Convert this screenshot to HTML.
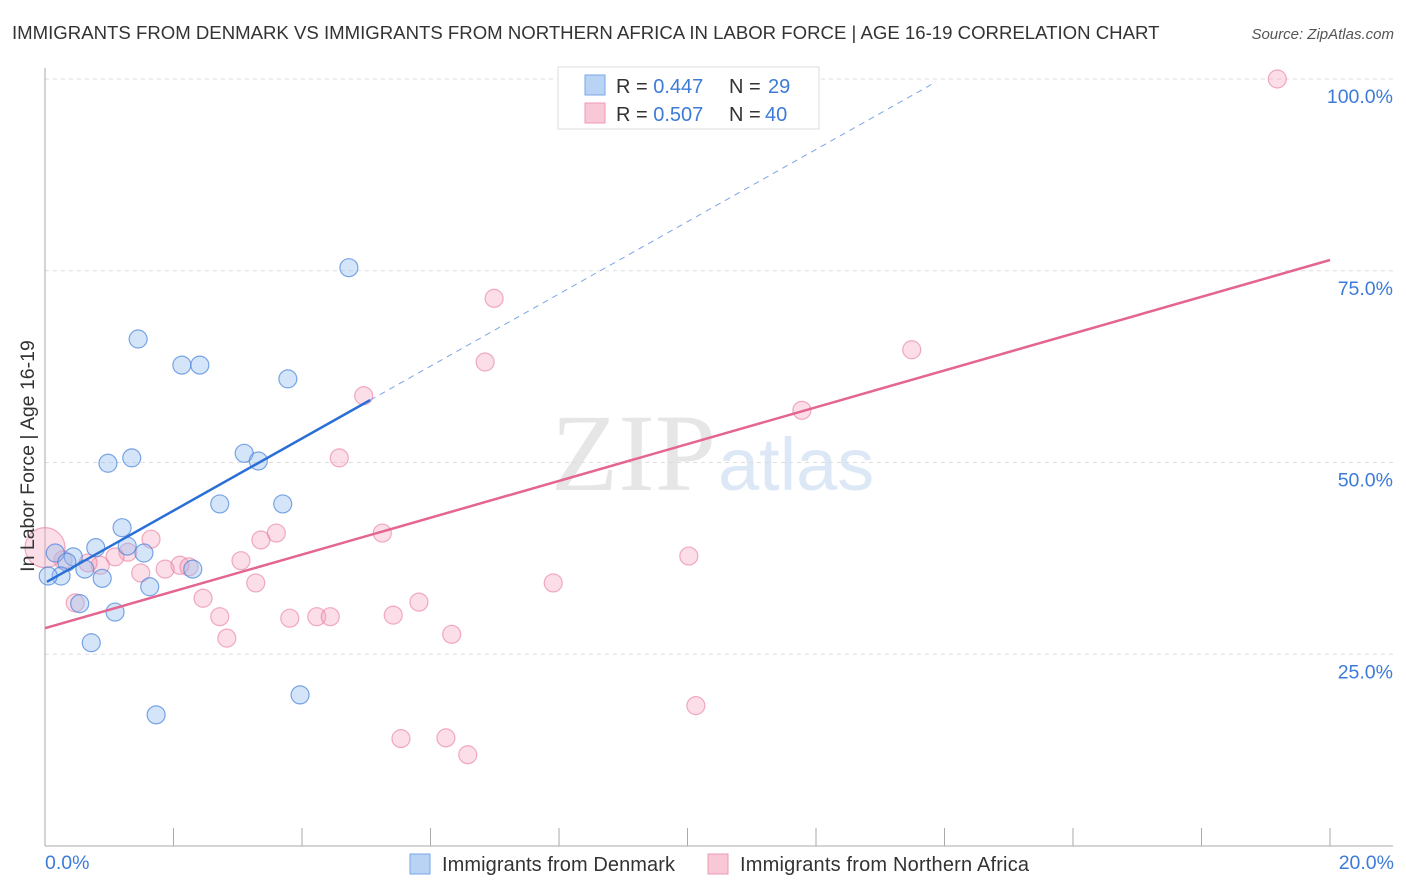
<!DOCTYPE html>
<html><head><meta charset="utf-8"><style>
body{margin:0;background:#fff;font-family:"Liberation Sans",sans-serif}
svg{display:block}
</style></head><body>
<svg width="1406" height="892">
<text x="12" y="39" font-size="18.6" fill="#333">IMMIGRANTS FROM DENMARK VS IMMIGRANTS FROM NORTHERN AFRICA IN LABOR FORCE | AGE 16-19 CORRELATION CHART</text>
<text x="1394" y="39" font-size="15" fill="#555" font-style="italic" text-anchor="end">Source: ZipAtlas.com</text>
<text x="716" y="490" font-size="110" fill="#e6e6e6" text-anchor="end" font-family="Liberation Serif,serif">ZIP</text>
<text x="718" y="490" font-size="74" fill="#dde8f6">atlas</text>
<g id="grid"></g>
<g id="axes"></g>
<g id="marks"></g>
<text x="34" y="456" font-size="19.5" fill="#333" text-anchor="middle" transform="rotate(-90 34 456)">In Labor Force | Age 16-19</text>
<text x="45" y="869" font-size="19.5" fill="#3d7bd9">0.0%</text>
<text x="1394" y="869" font-size="19.5" fill="#3d7bd9" text-anchor="end">20.0%</text>
<g>
<rect x="410" y="854" width="20" height="20" fill="#b9d3f5" stroke="#7aa6e6"/>
<text x="442" y="871" font-size="20" fill="#333" textLength="233">Immigrants from Denmark</text>
<rect x="708" y="854" width="20" height="20" fill="#f9c8d6" stroke="#ee9ab4"/>
<text x="740" y="871" font-size="20" fill="#333" textLength="289">Immigrants from Northern Africa</text>
</g>
<g>
<rect x="558" y="67" width="261" height="62" fill="#fff" stroke="#ddd"/>
<rect x="585" y="75" width="20" height="20" fill="#b9d3f5" stroke="#7aa6e6"/>
<rect x="585" y="103" width="20" height="20" fill="#f9c8d6" stroke="#ee9ab4"/>
<g font-size="20" fill="#333">
<text x="616" y="93">R = <tspan fill="#3d7bd9">0.447</tspan></text>
<text x="729" y="93">N =</text>
<text x="768" y="93" fill="#3d7bd9">29</text>
<text x="616" y="121">R = <tspan fill="#3d7bd9">0.507</tspan></text>
<text x="729" y="121">N =</text>
<text x="765" y="121" fill="#3d7bd9">40</text>
</g>
</g>
</svg>
<script>
const blueX=[1.45,2.13,2.41,3.78,4.73,0.98,1.35,3.10,3.32,2.72,3.70,1.20,0.79,1.28,1.54,0.16,0.44,0.34,0.62,0.89,0.25,0.05,1.63,2.30,0.54,1.09,0.72,3.97,1.73];
const blueY=[66.1,62.7,62.7,60.9,75.4,49.9,50.6,51.2,50.2,44.6,44.6,41.5,38.9,39.1,38.2,38.2,37.7,37.0,36.1,34.9,35.2,35.2,33.8,36.1,31.6,30.5,26.5,19.7,17.1];
const pinkX=[19.18,8.42,6.99,6.85,13.49,4.96,11.78,4.58,5.25,3.60,3.36,1.65,1.29,1.09,10.02,3.05,2.10,2.24,1.87,0.86,0.67,0.28,1.49,7.91,3.28,2.46,5.82,0.47,2.72,5.42,3.81,4.23,4.44,2.83,6.33,10.13,5.54,6.24,6.58,0];
const pinkY=[100,100,71.4,63.1,64.7,58.7,56.8,50.6,40.8,40.8,39.9,40.0,38.3,37.7,37.8,37.2,36.6,36.4,36.1,36.6,36.9,37.3,35.6,34.3,34.3,32.3,31.8,31.7,29.9,30.1,29.7,29.9,29.9,27.1,27.6,18.3,14.0,14.1,11.9,38.9];
const pinkR=[9,9,9,9,9,9,9,9,9,9,9,9,9,9,9,9,9,9,9,9,9,9,9,9,9,9,9,9,9,9,9,9,9,9,9,9,9,9,9,20];
const blueFit=[34.3,4.71];
const blueFitRange=[0.03,5.06,13.87];
const pinkFit=[28.4,2.4];
const yTicks=[25,50,75,100];
const yTickLabels=["25.0%","50.0%","75.0%","100.0%"];
const xTicks=[0,2,4,6,8,10,12,14,16,18,20];
const NS="http://www.w3.org/2000/svg";
const sx=v=>45+v*64.25, sy=v=>846-v*7.67;
function mk(t,a,p){const e=document.createElementNS(NS,t);for(const k in a)e.setAttribute(k,a[k]);p.appendChild(e);return e;}
const grid=document.getElementById('grid'),axes=document.getElementById('axes'),marks=document.getElementById('marks');
yTicks.forEach((t,i)=>{
 const l=mk('line',{x1:45,x2:1393,y1:sy(t),y2:sy(t),stroke:'#ddd','stroke-dasharray':'4,4'},grid);
 
 
 const tx=mk('text',{x:1393,y:sy(t)+24,'font-size':19.5,fill:'#3d7bd9','text-anchor':'end'},grid);
 tx.textContent=yTickLabels[i];
 
 
});
let a=mk('line',{x1:45,x2:45,y1:68,y2:846,stroke:'#aaa'},axes);


a=mk('line',{x1:45,x2:1393,y1:846,y2:846,stroke:'#aaa'},axes);


xTicks.forEach(t=>{const l=mk('line',{x1:sx(t),x2:sx(t),y1:828,y2:846,stroke:'#aaa'},axes);
 
 });
pinkX.forEach((x,i)=>{const c=mk('circle',{cx:sx(x),cy:sy(pinkY[i]),r:pinkR[i],fill:'rgba(244,160,186,0.35)',stroke:'rgba(232,120,156,0.6)','stroke-width':1.2},marks);
 
 });
blueX.forEach((x,i)=>{const c=mk('circle',{cx:sx(x),cy:sy(blueY[i]),r:9,fill:'rgba(150,190,240,0.4)',stroke:'rgba(70,130,220,0.7)','stroke-width':1.2},marks);
 
 });
const bf=v=>blueFit[0]+blueFit[1]*v, pf=v=>pinkFit[0]+pinkFit[1]*v;
let ln=mk('line',{x1:sx(blueFitRange[1]),y1:sy(bf(blueFitRange[1])),x2:sx(blueFitRange[2]),y2:sy(bf(blueFitRange[2])),stroke:'#7aa6e6','stroke-width':1,'stroke-dasharray':'6,5'},marks);


ln=mk('line',{x1:sx(blueFitRange[0]),y1:sy(bf(blueFitRange[0])),x2:sx(blueFitRange[1]),y2:sy(bf(blueFitRange[1])),stroke:'#2a6fd6','stroke-width':2.5},marks);


ln=mk('line',{x1:sx(0),y1:sy(pf(0)),x2:sx(20),y2:sy(pf(20)),stroke:'#e4658f','stroke-width':2.5},marks);


</script>
</body></html>
